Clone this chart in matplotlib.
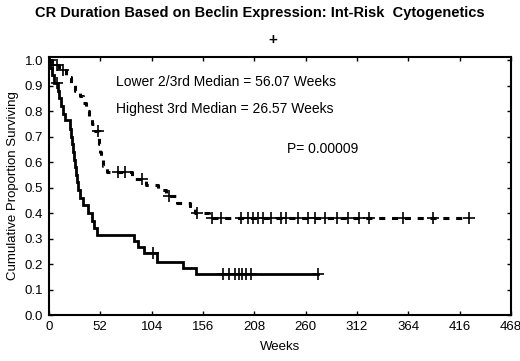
import numpy as np
import matplotlib
matplotlib.use("Agg")
import matplotlib.pyplot as plt

# Highest 3rd (solid)
high_t = [0, 1, 3, 5, 9, 10, 12, 14, 16, 21, 22, 23, 24, 25, 26, 27, 28, 29, 31, 35, 40, 44, 46, 49, 86, 90, 96, 109, 136, 149, 272]
high_s = [1.0, 0.97, 0.94, 0.91, 0.88, 0.85, 0.82, 0.79, 0.765, 0.73, 0.70, 0.67, 0.64, 0.61, 0.58, 0.55, 0.52, 0.49, 0.46, 0.43, 0.40, 0.37, 0.34, 0.314, 0.29, 0.265, 0.243, 0.209, 0.184, 0.161, 0.161]
high_cens = [8, 105, 176, 182, 188, 192, 196, 200, 205, 272]

# Lower 2/3rd (dashed)
low_t = [0, 3, 10, 17, 22, 26, 31, 35, 38, 41, 44, 47, 51, 52, 53, 55, 59, 84, 98, 110, 119, 130, 143, 148, 162, 425]
low_s = [1.0, 0.98, 0.96, 0.935, 0.91, 0.88, 0.86, 0.83, 0.80, 0.78, 0.75, 0.72, 0.67, 0.64, 0.61, 0.585, 0.56, 0.535, 0.51, 0.49, 0.465, 0.44, 0.42, 0.40, 0.38, 0.38]
low_cens = [1, 4, 8, 14, 50, 70, 77, 94, 122, 150, 165, 174, 195, 202, 207, 212, 217, 225, 235, 240, 252, 262, 269, 280, 292, 303, 314, 324, 359, 389, 425]

x_ticks = [0, 52, 104, 156, 208, 260, 312, 364, 416, 468]
y_ticks = [0.0, 0.1, 0.2, 0.3, 0.4, 0.5, 0.6, 0.7, 0.8, 0.9, 1.0]

title = "CR Duration Based on Beclin Expression: Int-Risk  Cytogenetics"
annot1 = "Lower 2/3rd Median = 56.07 Weeks"
annot2 = "Highest 3rd Median = 26.57 Weeks"
annot3 = "P= 0.00009"


def surv_at(t, s, c):
    t = np.asarray(t)
    s = np.asarray(s)
    idx = np.searchsorted(t, c, side="right") - 1
    return s[idx]


narrow = ["Liberation Sans Narrow", "Liberation Sans", "DejaVu Sans"]
reg = ["Liberation Sans", "DejaVu Sans"]

fig = plt.figure(figsize=(5.2, 3.61), dpi=100)
ax = fig.add_axes([0.094, 0.1274, 0.889, 0.7146])

ax.step(high_t, high_s, where="post", color="black", lw=2.0, solid_joinstyle="miter")
ax.plot(high_cens, surv_at(high_t, high_s, high_cens), "+", color="black", ms=8, mew=1.2)

ln, = ax.step(low_t, low_s, where="post", color="black", lw=2.2)
ln.set_dashes((2.0, 2.2))
ax.plot(low_cens, surv_at(low_t, low_s, low_cens), "+", color="black", ms=8, mew=1.2)

ax.set_xlim(0, 468)
ax.set_ylim(0, 1.012)
ax.set_xticks(x_ticks)
ax.set_xticklabels([str(v) for v in x_ticks], family=narrow, fontsize=9.5)
ax.set_yticks(y_ticks)
ax.set_yticklabels([f"{v:.1f}" for v in y_ticks], family=narrow, fontsize=9.5)
ax.tick_params(direction="in", top=True, right=True, length=3, width=1, pad=4)
for sp in ax.spines.values():
    sp.set_linewidth(1.5)

ax.set_xlabel("Weeks", family=reg, fontsize=9.5, labelpad=6)
ax.set_ylabel("Cumulative Proportion Surviving", family=reg, fontsize=9.5, labelpad=4)

fig.text(0.5, 0.965, title, ha="center", va="center", family=narrow, fontsize=10.5, fontweight="bold")
fig.text(0.525, 0.888, "+", ha="center", va="center", family=reg, fontsize=11, fontweight="bold")

ax.text(0.145, 0.905, annot1, transform=ax.transAxes, ha="left", va="center", family=reg, fontsize=10)
ax.text(0.145, 0.80, annot2, transform=ax.transAxes, ha="left", va="center", family=reg, fontsize=10)
ax.text(0.515, 0.645, annot3, transform=ax.transAxes, ha="left", va="center", family=reg, fontsize=10)

fig.savefig("out.png", dpi=100)
